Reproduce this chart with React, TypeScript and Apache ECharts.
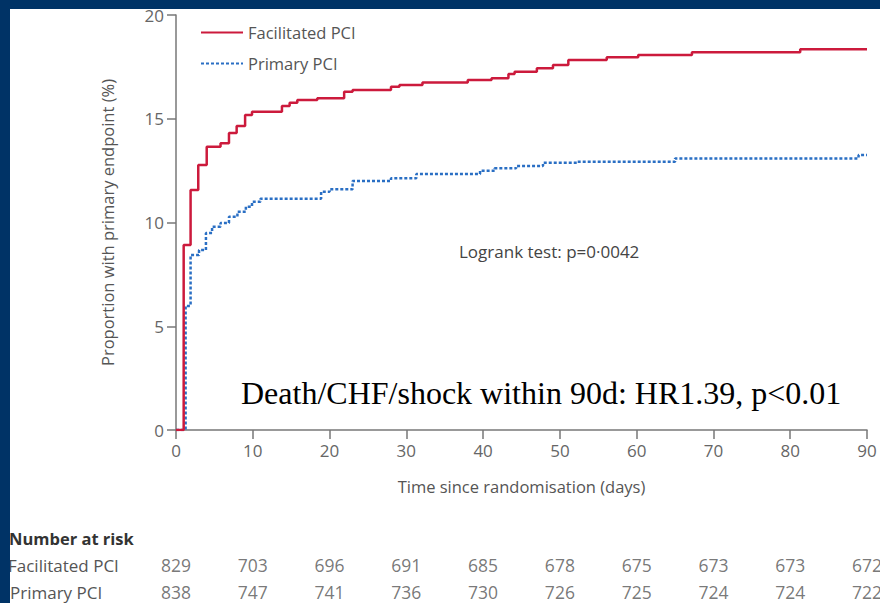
import React, { useEffect, useRef } from "react";
import * as echarts from "echarts";

// Kaplan-Meier step points (day, % with primary endpoint)
const facDays = [0, 1.0, 1.9, 2.9, 4.0, 5.8, 6.9, 7.9, 9.0, 9.9, 13.8, 14.8, 15.8, 18.4, 21.9, 23.0, 28.0, 29.1, 32.1, 38.0, 41.1, 43.3, 44.1, 47.0, 49.1, 51.1, 56.1, 60.2, 67.2, 81.3, 90];
const facPct = [0, 8.92, 11.57, 12.77, 13.65, 13.82, 14.31, 14.65, 15.18, 15.34, 15.61, 15.77, 15.9, 15.99, 16.3, 16.39, 16.54, 16.63, 16.75, 16.87, 16.95, 17.16, 17.27, 17.43, 17.59, 17.83, 17.96, 18.07, 18.2, 18.35, 18.35];

const priDays = [0, 1.25, 1.9, 3.0, 3.9, 4.7, 5.8, 6.9, 8.0, 9.1, 9.9, 11.0, 18.9, 20.0, 23.0, 28.0, 31.3, 39.6, 41.5, 44.3, 47.8, 52.2, 65.0, 88.9, 90];
const priPct = [0, 5.98, 8.43, 8.67, 9.49, 9.8, 9.98, 10.28, 10.52, 10.76, 11.0, 11.15, 11.48, 11.6, 12.0, 12.13, 12.34, 12.5, 12.61, 12.72, 12.88, 12.93, 13.09, 13.25, 13.25];

// Number at risk
const riskDays = [0, 10, 20, 30, 40, 50, 60, 70, 80, 90];
const facRisk = [829, 703, 696, 691, 685, 678, 675, 673, 673, 672];
const priRisk = [838, 747, 741, 736, 730, 726, 725, 724, 724, 722];

const seriesNames = ["Facilitated PCI", "Primary PCI"];
// row index in the number-at-risk table (1 = upper row, 0 = lower row)
const riskRows = [1, 0];

const FONT = "Open Sans";
const GRAY = "#555";
const AXIS = "#777";

export default function App() {
  const ref = useRef<HTMLDivElement>(null);

  useEffect(() => {
    if (!ref.current) return;
    const chart = echarts.init(ref.current, null, { renderer: "svg" });

    const facData = facDays.map((d, i) => [d, facPct[i]]);
    const priData = priDays.map((d, i) => [d, priPct[i]]);
    const riskData = [
      ...riskDays.map((d, i) => [d, riskRows[0], facRisk[i]]),
      ...riskDays.map((d, i) => [d, riskRows[1], priRisk[i]]),
    ];

    chart.setOption({
      animation: false,
      backgroundColor: "#fff",
      textStyle: { fontFamily: FONT },
      grid: [
        { left: 176, right: 13, top: 15, bottom: 173 },
        { left: 176, right: 13, top: 565, height: 27 },
      ],
      legend: {
        orient: "vertical",
        left: 195,
        top: 19,
        itemWidth: 42,
        itemHeight: 10,
        itemGap: 14,
        data: seriesNames,
        itemStyle: { opacity: 0 },
        textStyle: { fontFamily: FONT, fontSize: 16.5, color: GRAY },
      },
      xAxis: [
        {
          type: "value",
          gridIndex: 0,
          min: 0,
          max: 90,
          interval: 10,
          name: "Time since randomisation (days)",
          nameLocation: "middle",
          nameGap: 48,
          nameTextStyle: { fontFamily: FONT, fontSize: 16.5, color: GRAY },
          axisLine: { show: true, lineStyle: { color: AXIS, width: 1.5 } },
          axisTick: { show: true, length: 9, lineStyle: { color: AXIS, width: 1.5 } },
          axisLabel: { fontFamily: FONT, fontSize: 17, color: "#666", margin: 12 },
          splitLine: { show: false },
        },
        { type: "value", gridIndex: 1, min: 0, max: 90, show: false },
      ],
      yAxis: [
        {
          type: "value",
          gridIndex: 0,
          min: 0,
          max: 20,
          interval: 5,
          name: "Proportion with primary endpoint (%)",
          nameLocation: "middle",
          nameGap: 60,
          nameTextStyle: { fontFamily: FONT, fontSize: 16.5, color: GRAY },
          axisLine: { show: true, lineStyle: { color: AXIS, width: 1.5 } },
          axisTick: { show: true, length: 9, lineStyle: { color: AXIS, width: 1.5 } },
          axisLabel: { fontFamily: FONT, fontSize: 17, color: "#666", margin: 12 },
          splitLine: { show: false },
        },
        { type: "value", gridIndex: 1, min: 0, max: 1, show: false },
      ],
      series: [
        {
          name: seriesNames[0],
          type: "line",
          step: "end",
          data: facData,
          symbol: "none",
          z: 3,
          lineStyle: { color: "#cc1a3c", width: 2.5 },
          itemStyle: { color: "#cc1a3c" },
        },
        {
          name: seriesNames[1],
          type: "line",
          step: "end",
          data: priData,
          symbol: "none",
          z: 2,
          lineStyle: { color: "#2a6fc4", width: 2.5, type: [3, 2] },
          itemStyle: { color: "#2a6fc4" },
        },
        {
          name: "risk",
          type: "scatter",
          xAxisIndex: 1,
          yAxisIndex: 1,
          data: riskData,
          symbolSize: 1,
          clip: false,
          itemStyle: { color: "rgba(0,0,0,0)" },
          label: {
            show: true,
            position: "inside",
            fontFamily: FONT,
            fontSize: 17.5,
            color: GRAY,
            formatter: (p: any) => String(p.data[2]),
          },
          silent: true,
        },
      ],
      graphic: [
        {
          type: "text",
          x: 459,
          y: 251,
          style: { text: "Logrank test: p=0·0042", fontFamily: FONT, fontSize: 17, fill: "#444", verticalAlign: "middle" },
        },
        {
          type: "text",
          x: 241,
          y: 393,
          style: {
            text: "Death/CHF/shock within 90d: HR1.39, p<0.01",
            fontFamily: "Liberation Serif",
            fontSize: 32,
            fill: "#000",
            verticalAlign: "middle",
          },
        },
        {
          type: "text",
          x: 9,
          y: 538,
          style: { text: "Number at risk", fontFamily: FONT, fontSize: 16.5, fontWeight: "bold", fill: "#333", verticalAlign: "middle" },
        },
        {
          type: "text",
          x: 8,
          y: 565,
          style: { text: seriesNames[0], fontFamily: FONT, fontSize: 17, fill: GRAY, verticalAlign: "middle" },
        },
        {
          type: "text",
          x: 10,
          y: 592,
          style: { text: seriesNames[1], fontFamily: FONT, fontSize: 17, fill: GRAY, verticalAlign: "middle" },
        },
        { type: "rect", z: 100, shape: { x: 0, y: 0, width: 880, height: 9 }, style: { fill: "#003366" } },
        { type: "rect", z: 100, shape: { x: 0, y: 0, width: 10, height: 603 }, style: { fill: "#003366" } },
      ],
    });

    return () => chart.dispose();
  }, []);

  return <div ref={ref} style={{ position: "fixed", left: 0, top: 0, width: 880, height: 603 }} />;
}
